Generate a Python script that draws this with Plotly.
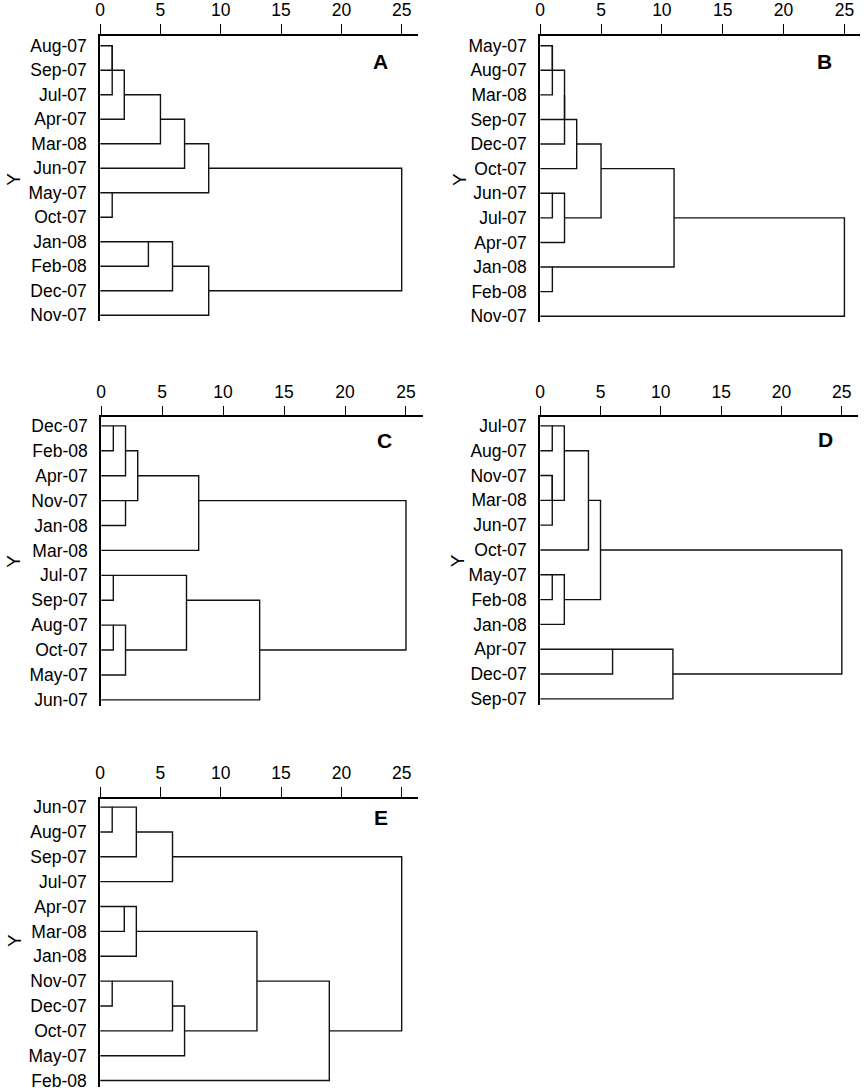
import plotly.graph_objects as go

W, H = 864, 1092

# ---------------- data (leaf order top->bottom, merges: child, child, rescaled distance) -------------
# leaves are indexed 0..11; merge k creates node id 12+k
leaves_A = ["Aug-07", "Sep-07", "Jul-07", "Apr-07", "Mar-08", "Jun-07",
            "May-07", "Oct-07", "Jan-08", "Feb-08", "Dec-07", "Nov-07"]
merges_A = [(0, 1, 1), (12, 2, 1), (13, 3, 2), (14, 4, 5), (15, 5, 7),
            (6, 7, 1), (16, 17, 9), (8, 9, 4), (19, 10, 6), (20, 11, 9),
            (18, 21, 25)]

leaves_B = ["May-07", "Aug-07", "Mar-08", "Sep-07", "Dec-07", "Oct-07",
            "Jun-07", "Jul-07", "Apr-07", "Jan-08", "Feb-08", "Nov-07"]
merges_B = [(0, 1, 1), (12, 2, 1), (13, 3, 2), (14, 4, 2), (15, 5, 3),
            (6, 7, 1), (17, 8, 2), (16, 18, 5), (9, 10, 1), (19, 20, 11),
            (21, 11, 25)]

leaves_C = ["Dec-07", "Feb-08", "Apr-07", "Nov-07", "Jan-08", "Mar-08",
            "Jul-07", "Sep-07", "Aug-07", "Oct-07", "May-07", "Jun-07"]
merges_C = [(0, 1, 1), (12, 2, 2), (3, 4, 2), (13, 14, 3), (15, 5, 8),
            (6, 7, 1), (8, 9, 1), (18, 10, 2), (17, 19, 7), (20, 11, 13),
            (16, 21, 25)]

leaves_D = ["Jul-07", "Aug-07", "Nov-07", "Mar-08", "Jun-07", "Oct-07",
            "May-07", "Feb-08", "Jan-08", "Apr-07", "Dec-07", "Sep-07"]
merges_D = [(0, 1, 1), (2, 3, 1), (13, 4, 1), (12, 14, 2), (15, 5, 4),
            (6, 7, 1), (17, 8, 2), (16, 18, 5), (9, 10, 6), (20, 11, 11),
            (19, 21, 25)]

leaves_E = ["Jun-07", "Aug-07", "Sep-07", "Jul-07", "Apr-07", "Mar-08",
            "Jan-08", "Nov-07", "Dec-07", "Oct-07", "May-07", "Feb-08"]
merges_E = [(0, 1, 1), (12, 2, 3), (13, 3, 6), (4, 5, 2), (15, 6, 3),
            (7, 8, 1), (17, 9, 6), (18, 10, 7), (16, 19, 13), (20, 11, 19),
            (14, 21, 25)]

x_ticks = [0, 5, 10, 15, 20, 25]
panel_letters = ["A", "B", "C", "D", "E"]
axis_title = "Y"

# ---------------- layout geometry (pixels) ----------------
panels = [
    dict(leaves=leaves_A, merges=merges_A, x0=95.7, x25=399.0, xend=415.7,
         top=32.0, r0=42.0, r11=313.5, ytitle=(9, 176), letter=(378, 58)),
    dict(leaves=leaves_B, merges=merges_B, x0=538.3, x25=844.3, xend=860.0,
         top=32.0, r0=42.0, r11=314.5, ytitle=(457, 177), letter=(824, 58)),
    dict(leaves=leaves_C, merges=merges_C, x0=96.7, x25=403.3, xend=420.0,
         top=416.5, r0=425.0, r11=701.0, ytitle=(9, 561), letter=(382, 440)),
    dict(leaves=leaves_D, merges=merges_D, x0=538.3, x25=841.7, xend=858.0,
         top=416.5, r0=425.0, r11=700.0, ytitle=(456, 561), letter=(825, 439)),
    dict(leaves=leaves_E, merges=merges_E, x0=95.7, x25=399.0, xend=415.7,
         top=800.5, r0=809.0, r11=1084.5, ytitle=(9, 943), letter=(378, 820)),
]

FONT = "Liberation Sans, Arial, sans-serif"
TICK_SIZE = 17.5


def dendro_paths(n, merges):
    rows = list(range(n))
    hts = [0] * n
    xs, ys = [], []
    for a, b, h in merges:
        xs += [hts[a], h, h, hts[b], None]
        ys += [rows[a], rows[a], rows[b], rows[b], None]
        rows.append((rows[a] + rows[b]) // 2)
        hts.append(h)
    return xs, ys


fig = go.Figure()
layout = dict(
    width=W, height=H, margin=dict(l=0, r=0, t=0, b=0),
    paper_bgcolor="white", plot_bgcolor="white", showlegend=False,
    font=dict(family=FONT, color="black", size=TICK_SIZE),
)
annotations = []

for i, p in enumerate(panels):
    sfx = "" if i == 0 else str(i + 1)
    n = len(p["leaves"])
    xs, ys = dendro_paths(n, p["merges"])
    fig.add_trace(go.Scatter(
        x=xs, y=ys, mode="lines", xaxis="x" + sfx, yaxis="y" + sfx,
        line=dict(color="#111111", width=1.4), hoverinfo="skip",
    ))
    s = (p["r11"] - p["r0"]) / (n - 1)
    a = (p["r0"] - p["top"]) / s
    b = 0.25
    ybot = p["r11"] + b * s
    xmax = (p["xend"] - p["x0"]) / ((p["x25"] - p["x0"]) / 25.0)
    layout["xaxis" + sfx] = dict(
        domain=[p["x0"] / W, p["xend"] / W], range=[0, xmax],
        anchor="y" + sfx, side="top", showgrid=False, zeroline=False,
        showline=True, linecolor="black", linewidth=1.7,
        ticks="outside", ticklen=10, tickwidth=1.4, tickcolor="black",
        tickvals=x_ticks, ticktext=[str(t) for t in x_ticks],
        tickfont=dict(size=TICK_SIZE, family=FONT, color="black"),
        ticklabelstandoff=1, fixedrange=True,
    )
    layout["yaxis" + sfx] = dict(
        domain=[1 - ybot / H, 1 - p["top"] / H], range=[n - 1 + b, -a],
        anchor="x" + sfx, showgrid=False, zeroline=False,
        showline=True, linecolor="black", linewidth=1.7, ticks="",
        tickvals=list(range(n)), ticktext=p["leaves"],
        tickfont=dict(size=TICK_SIZE, family=FONT, color="black"),
        ticklabelstandoff=8, fixedrange=True,
    )
    annotations.append(dict(
        x=p["letter"][0] / W, y=1 - p["letter"][1] / H, xref="paper", yref="paper",
        text="<b>" + panel_letters[i] + "</b>", showarrow=False,
        xanchor="center", yanchor="middle",
        font=dict(size=21, family=FONT, color="black"),
    ))
    annotations.append(dict(
        x=p["ytitle"][0] / W, y=1 - p["ytitle"][1] / H, xref="paper", yref="paper",
        text=axis_title, showarrow=False, textangle=-90,
        xanchor="center", yanchor="middle",
        font=dict(size=19, family=FONT, color="black"),
    ))

layout["annotations"] = annotations
fig.update_layout(**layout)
fig.write_html("out.html", config={"displayModeBar": False},
               post_script="document.body.style.margin='0';document.body.style.overflow='hidden';")
